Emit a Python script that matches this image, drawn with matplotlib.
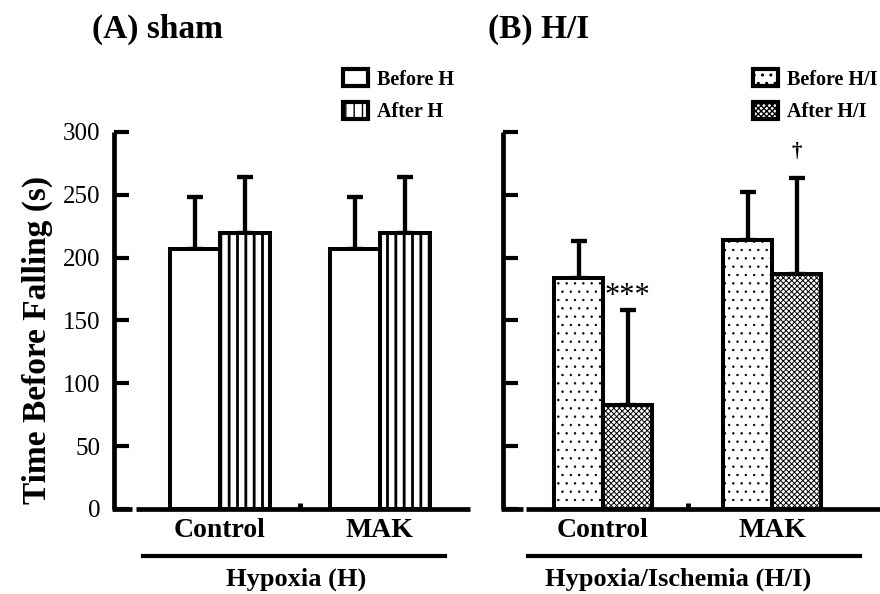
import matplotlib
matplotlib.use('Agg')
import matplotlib.pyplot as plt
from matplotlib.patches import Patch

plt.rcParams['font.family'] = ['Liberation Serif', 'DejaVu Serif']

groups = ['Control', 'MAK']
yticks = [0, 50, 100, 150, 200, 250, 300]

# (A) sham: rotarod time before / after hypoxia
sham_before = [207, 207]
sham_before_sd = [41, 41]
sham_after = [220, 220]
sham_after_sd = [44, 44]

# (B) H/I: before / after hypoxia-ischemia
hi_before = [184, 214]
hi_before_sd = [29, 38]
hi_after = [83, 187]
hi_after_sd = [75, 76]

marks_hi = ['***', '\u2020']

EDGE = 2.9
SHAM_HATCH = ['', '||']
HI_HATCH = ['..', 'xxxxxx']


def draw_panel(ax, before, before_sd, after, after_sd, hatches, hatch_lw, width, xlim):
    x = list(range(len(groups)))
    xb = [i - width / 2 for i in x]
    xa = [i + width / 2 for i in x]
    bars_b = ax.bar(xb, before, width, color='white', edgecolor='black',
                    linewidth=EDGE, hatch=hatches[0], zorder=2)
    bars_a = ax.bar(xa, after, width, color='white', edgecolor='black',
                    linewidth=EDGE, hatch=hatches[1], zorder=2)
    for b in bars_b:
        b.set_hatch_linewidth(hatch_lw[0])
    for b in bars_a:
        b.set_hatch_linewidth(hatch_lw[1])
    for xs, m, sd in [(xb, before, before_sd), (xa, after, after_sd)]:
        ax.errorbar(xs, m, yerr=[[0] * len(sd), sd], fmt='none', ecolor='black',
                    elinewidth=3.1, capsize=6, capthick=3.1, zorder=1)

    ax.set_xlim(*xlim)
    ax.set_ylim(0, 300)
    ax.set_yticks(yticks)
    ax.spines[['top', 'right', 'bottom']].set_visible(False)
    ax.spines['left'].set_linewidth(3.4)
    ax.spines['left'].set_capstyle('butt')
    ax.tick_params(axis='y', direction='in', length=11, width=3, labelsize=18, pad=10)
    ax.set_xticks([0.5])
    ax.tick_params(axis='x', direction='in', length=4, width=3.5, labelbottom=False)

    # baseline drawn in two pieces, small break near the corner
    ax.plot([-0.006, 0.052], [0, 0], color='black', lw=3.4, transform=ax.transAxes,
            clip_on=False, solid_capstyle='butt')
    ax.plot([0.062, 1.0], [0, 0], color='black', lw=3.4, transform=ax.transAxes,
            clip_on=False, solid_capstyle='butt')

    for i, g in enumerate(groups):
        ax.text(i, -0.058, g, transform=ax.get_xaxis_transform(), ha='center',
                va='center', fontsize=20, fontweight='bold')
    return xa


fig = plt.figure(figsize=(8.8, 5.94), dpi=100)
ax1 = fig.add_axes([0.1295, 0.1431, 0.4045, 0.6347])
ax2 = fig.add_axes([0.5716, 0.1431, 0.4284, 0.6347])

draw_panel(ax1, sham_before, sham_before_sd, sham_after, sham_after_sd,
           SHAM_HATCH, [1.0, 2.0], 0.3125, (-0.6625, 1.5625))
xa = draw_panel(ax2, hi_before, hi_before_sd, hi_after, hi_after_sd,
                HI_HATCH, [0.5, 0.7], 0.29, (-0.592, 1.639))
ax2.tick_params(axis='y', labelleft=False)

# significance marks above the after-H/I bars
ax2.text(xa[0], hi_after[0] + hi_after_sd[0] + 11, marks_hi[0], ha='center',
         va='center', fontsize=22)
ax2.text(xa[1], hi_after[1] + hi_after_sd[1] + 21, marks_hi[1], ha='center',
         va='center', fontsize=15, fontweight='bold')

# legends
for ax, labels, hatches, anchor in [
        (ax1, ['Before H', 'After H'], SHAM_HATCH, (343 / 880, 1 - 69 / 594)),
        (ax2, ['Before H/I', 'After H/I'], HI_HATCH, (753 / 880, 1 - 69 / 594))]:
    handles = [Patch(facecolor='white', edgecolor='black', linewidth=3, hatch=h)
               for h in hatches]
    ax.legend(handles, labels, loc='upper left', bbox_to_anchor=anchor,
              bbox_transform=fig.transFigure, frameon=False, borderpad=0,
              borderaxespad=0, handlelength=1.25, handleheight=0.95,
              handletextpad=0.45, labelspacing=0.6,
              prop={'size': 14.5, 'weight': 'bold'})

fig.text(92 / 880, 0.95, '(A) sham', fontsize=24, fontweight='bold', va='center')
fig.text(488 / 880, 0.95, '(B) H/I', fontsize=24, fontweight='bold', va='center')
fig.text(0.043, 0.428, 'Time Before Falling (s)', rotation=90, ha='center',
         va='center', fontsize=24, fontweight='bold')

# condition underlines with captions
line_y = (594 - 556) / 594
fig.add_artist(plt.Line2D([143 / 880, 445 / 880], [line_y, line_y], color='black', lw=3))
fig.add_artist(plt.Line2D([528 / 880, 860 / 880], [line_y, line_y], color='black', lw=3))
fig.text(296 / 880, 0.024, 'Hypoxia (H)', ha='center', va='center', fontsize=19,
         fontweight='bold')
fig.text(678 / 880, 0.024, 'Hypoxia/Ischemia (H/I)', ha='center', va='center',
         fontsize=19, fontweight='bold')

fig.savefig('out.png', dpi=100)
